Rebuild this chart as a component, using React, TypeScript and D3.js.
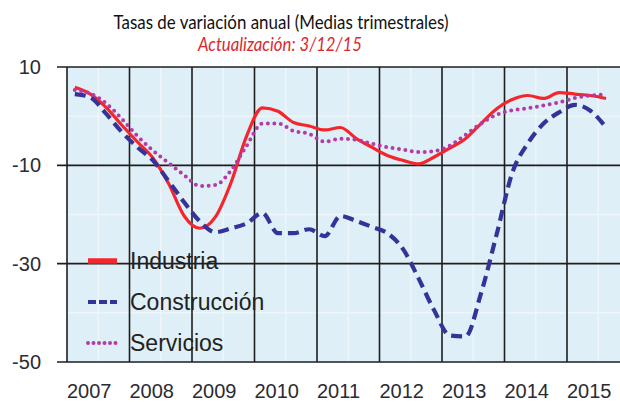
import React, { useEffect, useRef } from "react";
import * as d3 from "d3";

const years = [2007, 2008, 2009, 2010, 2011, 2012, 2013, 2014, 2015];
const yTicks = [10, -10, -30, -50];

// quarterly data 2007T1 .. 2015T3
const industria = [
  5.9, 4.5, 1.8, -1.8, -5.2, -8.5, -13.7, -20.3, -22.8, -20.5, -13.5, -4.0,
  1.7, 1.0, -1.3, -2.0, -2.8, -2.3, -4.5, -6.3, -8.0, -9.0, -9.7, -8.3,
  -6.5, -4.6, -1.5, 1.5, 3.4, 4.2, 3.6, 4.8, 4.5, 4.2, 3.6,
];
const construccion = [
  4.5, 3.8, 0.5, -3.2, -6.3, -9.0, -13.2, -17.5, -21.4, -23.6, -22.8, -21.8,
  -19.7, -23.8, -23.8, -23.0, -24.4, -20.3, -21.3, -22.5, -23.8, -27.0, -33.0, -39.5,
  -44.6, -44.8, -36.0, -24.0, -11.5, -5.5, -1.5, 0.8, 2.3, 1.1, -2.3,
];
const servicios = [
  5.3, 4.6, 2.6, -0.5, -4.0, -7.0, -9.5, -12.0, -14.2, -14.0, -11.0, -6.0,
  -1.5, -1.5, -3.0, -3.6, -5.2, -4.6, -4.8, -5.6, -6.3, -6.8, -7.3, -7.1,
  -6.0, -3.8, -1.5, 0.3, 1.2, 1.6, 2.2, 2.8, 3.7, 4.2, 4.4,
];

const seriesNames = ["Industria", "Construcción", "Servicios"];

const W = 620;
const H = 402;

export default function App() {
  const ref = useRef<SVGSVGElement | null>(null);

  useEffect(() => {
    const svg = d3.select(ref.current);
    svg.selectAll("*").remove();

    const x = d3.scaleLinear().domain([2007, 2016]).range([67, 629.5]);
    const y = d3.scaleLinear().domain([-50, 10]).range([362, 67]);

    // plot background
    svg.append("rect")
      .attr("x", x(2007)).attr("y", y(10))
      .attr("width", W - x(2007)).attr("height", y(-50) - y(10))
      .attr("fill", "#dfeff7");

    // faint sub grid
    const half = d3.range(2007.5, 2016, 1);
    svg.append("g").selectAll("line").data(half).enter().append("line")
      .attr("x1", d => x(d)).attr("x2", d => x(d))
      .attr("y1", y(10)).attr("y2", y(-50))
      .attr("stroke", "#eef6fa").attr("stroke-width", 1.5);
    svg.append("g").selectAll("line").data([0, -20, -40]).enter().append("line")
      .attr("x1", x(2007)).attr("x2", W)
      .attr("y1", d => y(d)).attr("y2", d => y(d))
      .attr("stroke", "#eef6fa").attr("stroke-width", 1.5);

    // main grid
    svg.append("g").selectAll("line").data(years).enter().append("line")
      .attr("x1", d => x(d)).attr("x2", d => x(d))
      .attr("y1", y(10)).attr("y2", y(-50))
      .attr("stroke", "#1e1e1e").attr("stroke-width", 1.6);
    svg.append("g").selectAll("line").data(yTicks).enter().append("line")
      .attr("x1", 57).attr("x2", W)
      .attr("y1", d => y(d)).attr("y2", d => y(d))
      .attr("stroke", "#1e1e1e").attr("stroke-width", 1.6);

    // axis labels
    svg.append("g").selectAll("text").data(yTicks).enter().append("text")
      .attr("x", 41).attr("y", d => y(d) + 7)
      .attr("text-anchor", "end")
      .attr("font-family", "Liberation Sans, Arial, sans-serif")
      .attr("font-size", 20).attr("fill", "#2b2b33")
      .text(d => String(d));
    svg.append("g").selectAll("text").data(years).enter().append("text")
      .attr("x", d => x(d)).attr("y", 398)
      .attr("font-family", "Liberation Sans, Arial, sans-serif")
      .attr("font-size", 20).attr("fill", "#2b2b33")
      .text(d => String(d));

    const xq = (i: number) => x(2007 + (i + 0.5) / 4);
    const line = d3.line<number>()
      .x((d, i) => xq(i))
      .y(d => y(d))
      .curve(d3.curveMonotoneX);

    const styles = [
      { data: industria, color: "#f5262b", width: 3.2, dash: null as string | null, cap: "butt" },
      { data: construccion, color: "#34339a", width: 4.2, dash: "11,6", cap: "butt" },
      { data: servicios, color: "#b43aa8", width: 4, dash: "0,6.5", cap: "round" },
    ];

    styles.forEach(s => {
      svg.append("path")
        .attr("d", line(s.data))
        .attr("fill", "none")
        .attr("stroke", s.color)
        .attr("stroke-width", s.width)
        .attr("stroke-dasharray", s.dash)
        .attr("stroke-linecap", s.cap)
        .attr("stroke-linejoin", "round");
    });

    // legend
    const lg = svg.append("g");
    const legendY = [261, 302, 343];
    seriesNames.forEach((name, i) => {
      const s = styles[i];
      lg.append("line")
        .attr("x1", 88).attr("x2", 117)
        .attr("y1", legendY[i]).attr("y2", legendY[i])
        .attr("stroke", s.color)
        .attr("stroke-width", i === 0 ? 5.5 : 4)
        .attr("stroke-dasharray", i === 1 ? "8,3" : i === 2 ? "0,5.5" : null)
        .attr("stroke-linecap", i === 2 ? "round" : "butt");
      lg.append("text")
        .attr("x", 130).attr("y", legendY[i] + 8)
        .attr("font-family", "Liberation Sans, Arial, sans-serif")
        .attr("font-size", 23).attr("fill", "#222")
        .text(name);
    });

    // titles
    svg.append("text")
      .attr("x", 281).attr("y", 29)
      .attr("text-anchor", "middle")
      .attr("font-family", "Lato, 'Open Sans', sans-serif")
      .attr("font-size", 20).attr("fill", "#111")
      .attr("textLength", 335).attr("lengthAdjust", "spacingAndGlyphs")
      .text("Tasas de variación anual (Medias trimestrales)");
    svg.append("text")
      .attr("x", 280).attr("y", 51)
      .attr("text-anchor", "middle")
      .attr("font-family", "Lato, 'Open Sans', sans-serif")
      .attr("font-style", "italic")
      .attr("font-size", 20).attr("fill", "#d92a2f")
      .attr("textLength", 164).attr("lengthAdjust", "spacingAndGlyphs")
      .text("Actualización: 3/12/15");
  }, []);

  return (
    <svg
      ref={ref}
      width={W}
      height={H}
      style={{ position: "absolute", left: 0, top: 0, background: "#fff" }}
    />
  );
}
